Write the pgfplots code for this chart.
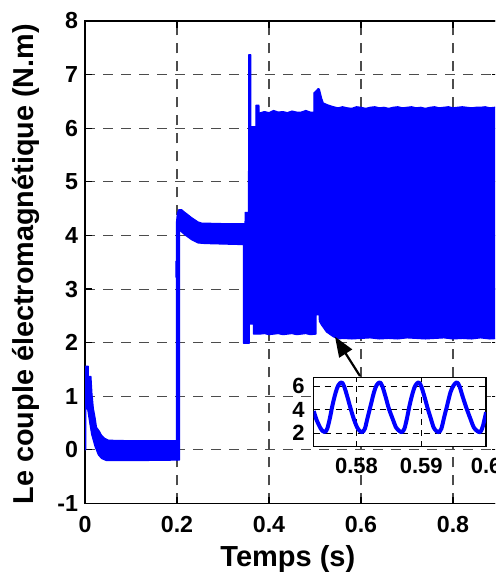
\documentclass[border=0pt]{standalone}
\usepackage{fontspec}
\setmainfont{Liberation Sans}
\usepackage{pgfplots}
\pgfplotsset{compat=1.18}
\usetikzlibrary{arrows.meta}
\definecolor{mblue}{RGB}{0,0,255}
\begin{document}
\begin{tikzpicture}
\path[use as bounding box] (-42.5pt,-34.25pt) rectangle (205pt,251.75pt);
\clip (-42.5pt,-34.25pt) rectangle (205pt,251.75pt);
\begin{axis}[
  at={(0pt,0pt)}, anchor=south west,
  scale only axis, width=207pt, height=241.25pt,
  xmin=0, xmax=0.9, ymin=-1, ymax=8,
  xtick={0,0.2,0.4,0.6,0.8}, xticklabels={0,0.2,0.4,0.6,0.8},
  ytick={-1,0,1,2,3,4,5,6,7,8},
  scaled ticks=false,
  /pgf/number format/assume math mode=true,
  tick align=inside, tick pos=both,
  major tick length=3.3pt,
  every tick/.style={black, line width=0.6pt},
  axis line style={line width=0.9pt, black},
  ticklabel style={font=\fontsize{11.6}{13}\selectfont\bfseries},
  xticklabel style={yshift=-2.7pt},
  grid=major,
  major grid style={black!70, line width=0.55pt, dash pattern=on 5pt off 4pt},
  xlabel={Temps (s)},
  ylabel={Le couple électromagnétique (N.m)},
  every axis x label/.style={at={(axis description cs:0.49,-0.1316)}, anchor=base, font=\fontsize{14.5}{16}\selectfont\bfseries},
  every axis y label/.style={at={(axis description cs:-0.1249,0.496)}, anchor=base, rotate=90, font=\fontsize{14.4}{16}\selectfont\bfseries},
]
% segment 0 - 0.2 s
\addplot[draw=mblue, fill=mblue, line width=0.6pt, line join=round] coordinates {
(0,0) (0.0003,1.56) (0.007,1.56) (0.0072,1.37) (0.0128,1.37) (0.015,1.06) (0.018,0.78)
(0.022,0.59) (0.025,0.42) (0.031,0.35) (0.036,0.27) (0.042,0.22) (0.051,0.18) (0.1,0.17)
(0.2005,0.17) (0.2005,-0.19) (0.1,-0.2) (0.047,-0.2) (0.036,-0.16) (0.029,-0.09)
(0.022,0.06) (0.0145,0.29) (0.011,0.47) (0.006,0.75) (0.0018,0.8) (0.0015,0) (0,0)
};
% segment 0.2 - 0.9 s
\addplot[draw=mblue, fill=mblue, line width=0.6pt, line join=round] coordinates {
(0.1990,-0.19) (0.1990,3.22) (0.1978,3.22) (0.1978,3.52) (0.1990,3.52) (0.1990,4.25)
(0.2010,4.42) (0.2040,4.48) (0.2100,4.48) (0.2170,4.43) (0.2246,4.38) (0.2320,4.33)
(0.2390,4.29) (0.2460,4.25) (0.2536,4.23) (0.3000,4.22) (0.3480,4.22) (0.3482,4.43)
(0.3556,4.43) (0.3558,7.37) (0.3604,7.37) (0.3606,6.03) (0.3715,6.03) (0.3717,6.43)
(0.3780,6.43) (0.3785,6.28) (0.39,6.31) (0.40,6.29) (0.41,6.33) (0.42,6.30) (0.43,6.31)
(0.44,6.29) (0.45,6.32) (0.46,6.30) (0.47,6.30) (0.48,6.33) (0.49,6.30) (0.4975,6.30)
(0.4978,6.66) (0.503,6.70) (0.507,6.74) (0.5093,6.73) (0.5143,6.56) (0.518,6.47)
(0.529,6.43) (0.54,6.40) (0.55,6.38) (0.56,6.40) (0.57,6.38) (0.58,6.37) (0.59,6.40)
(0.60,6.39) (0.61,6.37) (0.62,6.39) (0.63,6.40) (0.64,6.38) (0.65,6.39) (0.66,6.37)
(0.67,6.39) (0.68,6.40) (0.69,6.38) (0.70,6.39) (0.71,6.40) (0.72,6.38) (0.73,6.39)
(0.74,6.37) (0.75,6.39) (0.76,6.40) (0.77,6.38) (0.78,6.39) (0.79,6.40) (0.80,6.38)
(0.81,6.39) (0.82,6.40) (0.83,6.39) (0.84,6.38) (0.85,6.39) (0.86,6.39) (0.87,6.40)
(0.88,6.38) (0.89,6.39) (0.90,6.39)
(0.90,2.08) (0.88,2.07) (0.86,2.09) (0.84,2.07) (0.82,2.08) (0.80,2.07) (0.78,2.09)
(0.76,2.08) (0.74,2.07) (0.72,2.08) (0.70,2.09) (0.68,2.07) (0.66,2.08) (0.64,2.07)
(0.62,2.09) (0.60,2.08) (0.58,2.07) (0.56,2.08) (0.551,2.07) (0.54,2.11) (0.525,2.20)
(0.5143,2.33) (0.5095,2.40) (0.5093,2.52) (0.5022,2.52) (0.5020,2.16) (0.49,2.15)
(0.48,2.17) (0.47,2.16) (0.46,2.15) (0.45,2.17) (0.44,2.16) (0.43,2.15) (0.42,2.17)
(0.41,2.16) (0.40,2.15) (0.39,2.17) (0.38,2.16) (0.3662,2.16) (0.3660,2.35)
(0.3572,2.35) (0.3570,1.99) (0.3445,1.99) (0.3443,3.83) (0.30,3.84) (0.26,3.85)
(0.246,3.86) (0.2319,3.92) (0.2174,4.01) (0.2055,4.10) (0.2055,-0.19) (0.1990,-0.19)
};
\draw[black, line width=1.1pt, -{Triangle[length=10pt,width=7.5pt]}] (axis cs:0.5978,1.378) -- (axis cs:0.5435,2.111);
\end{axis}
% inset
\begin{axis}[
  at={(114.35pt,28.4pt)}, anchor=south west,
  scale only axis, width=86.2pt, height=34.7pt,
  xmin=0.5734, xmax=0.6, ymin=0.85, ymax=6.78,
  xtick={0.58,0.59,0.6}, xticklabels={0.58,0.59,0.6},
  ytick={2,4,6}, yticklabels={2,4,6},
  scaled ticks=false,
  tick align=inside, tick pos=both,
  major tick length=2.2pt,
  every tick/.style={black, line width=0.5pt},
  axis line style={line width=0.7pt, black},
  axis background/.style={fill=white},
  ticklabel style={font=\fontsize{11}{12}\selectfont\bfseries},
  xticklabel style={yshift=-2.4pt},
  yticklabel style={xshift=-1pt},
  grid=major,
  major grid style={black, line width=0.5pt, dash pattern=on 3pt off 2.5pt},
]
\addplot[draw=mblue, line width=2pt, smooth, line join=round] coordinates {
(0.5734,3.9) (0.5738,3.2) (0.5742,2.7) (0.5746,2.3) (0.5751,2.1) (0.5755,2.4) (0.5759,3.3)
(0.5763,4.4) (0.5768,5.5) (0.5772,6.1) (0.5777,6.35) (0.5781,6.0) (0.5786,5.1) (0.5791,4.1)
(0.5796,3.2) (0.5801,2.5) (0.5805,2.2) (0.5809,2.1)
(0.5813,2.4) (0.5817,3.3) (0.5822,4.4) (0.5827,5.5) (0.5831,6.1) (0.5836,6.35) (0.5840,6.0)
(0.5845,5.1) (0.5850,4.1) (0.5856,3.2) (0.5861,2.5) (0.5866,2.2) (0.5870,2.1)
(0.5874,2.4) (0.5878,3.3) (0.5882,4.4) (0.5887,5.5) (0.5891,6.1) (0.5896,6.35) (0.5900,6.0)
(0.5905,5.1) (0.5910,4.1) (0.5915,3.2) (0.5919,2.5) (0.5923,2.2) (0.5927,2.1)
(0.5931,2.4) (0.5935,3.3) (0.5940,4.4) (0.5945,5.5) (0.5950,6.1) (0.5955,6.35) (0.5959,6.0)
(0.5964,5.1) (0.5970,4.1) (0.5976,3.2) (0.5981,2.5) (0.5986,2.2) (0.5991,2.1)
(0.5995,2.6) (0.6000,3.8)
};
\end{axis}
\end{tikzpicture}
\end{document}
